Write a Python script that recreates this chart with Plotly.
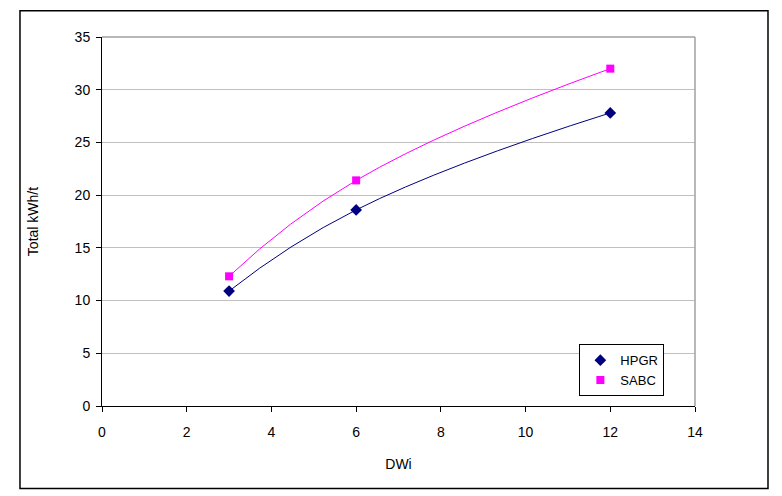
import plotly.graph_objects as go

dwi = [3, 6, 12]
hpgr = [10.9, 18.6, 27.8]
sabc = [12.3, 21.4, 32.0]
x_ticks = [0, 2, 4, 6, 8, 10, 12, 14]
y_ticks = [0, 5, 10, 15, 20, 25, 30, 35]

FONT = "Liberation Sans, Arial, sans-serif"
NAVY = "#000080"
MAGENTA = "#FF00FF"

fig = go.Figure()
# smooth lines (no legend entry)
fig.add_trace(go.Scatter(
    x=dwi, y=hpgr, mode="lines", showlegend=False, hoverinfo="skip",
    line=dict(color=NAVY, width=1, shape="spline", smoothing=1.3),
))
fig.add_trace(go.Scatter(
    x=dwi, y=sabc, mode="lines", showlegend=False, hoverinfo="skip",
    line=dict(color=MAGENTA, width=1, shape="spline", smoothing=1.3),
))
# markers (legend shows markers only)
fig.add_trace(go.Scatter(
    x=dwi, y=hpgr, name="HPGR", mode="markers",
    marker=dict(symbol="diamond", size=9, color=NAVY),
))
fig.add_trace(go.Scatter(
    x=dwi, y=sabc, name="SABC", mode="markers",
    marker=dict(symbol="square", size=8, color=MAGENTA),
))

fig.update_layout(
    width=782, height=496,
    margin=dict(l=102, r=87, t=37, b=90),
    paper_bgcolor="white", plot_bgcolor="white",
    font=dict(family=FONT, size=14, color="black"),
    showlegend=True,
    legend=dict(
        x=0.805, y=0.1675, xanchor="left", yanchor="top",
        bordercolor="black", borderwidth=1, bgcolor="white",
        font=dict(family=FONT, size=13, color="black"),
        itemwidth=30, tracegroupgap=0,
    ),
    xaxis=dict(
        range=[0, 14], tickvals=x_ticks, showgrid=False, zeroline=False,
        showline=True, linecolor="black", linewidth=1,
        ticks="outside", ticklen=5, tickcolor="black", ticklabelstandoff=8,
        tickfont=dict(family=FONT, size=14),
        title=dict(text="DWi", font=dict(family=FONT, size=14), standoff=20),
    ),
    yaxis=dict(
        range=[0, 35], tickvals=y_ticks, showgrid=True, gridcolor="#C0C0C0",
        gridwidth=1, zeroline=False,
        showline=True, linecolor="black", linewidth=1,
        ticks="outside", ticklen=5, tickcolor="black", ticklabelstandoff=3,
        tickfont=dict(family=FONT, size=14),
        title=dict(text="Total kWh/t", font=dict(family=FONT, size=14), standoff=32),
    ),
    shapes=[
        dict(type="line", xref="paper", yref="paper", x0=0, x1=1, y0=1, y1=1,
             line=dict(color="#A0A0A0", width=1.5)),
        dict(type="line", xref="paper", yref="paper", x0=1, x1=1, y0=0, y1=1,
             line=dict(color="#A0A0A0", width=1.5)),
        dict(type="rect", xref="paper", yref="paper",
             x0=-0.1383, x1=1.1231, y0=-0.2234, y1=1.0714,
             line=dict(color="black", width=1.5)),
    ],
)

fig.write_html("out.html")
